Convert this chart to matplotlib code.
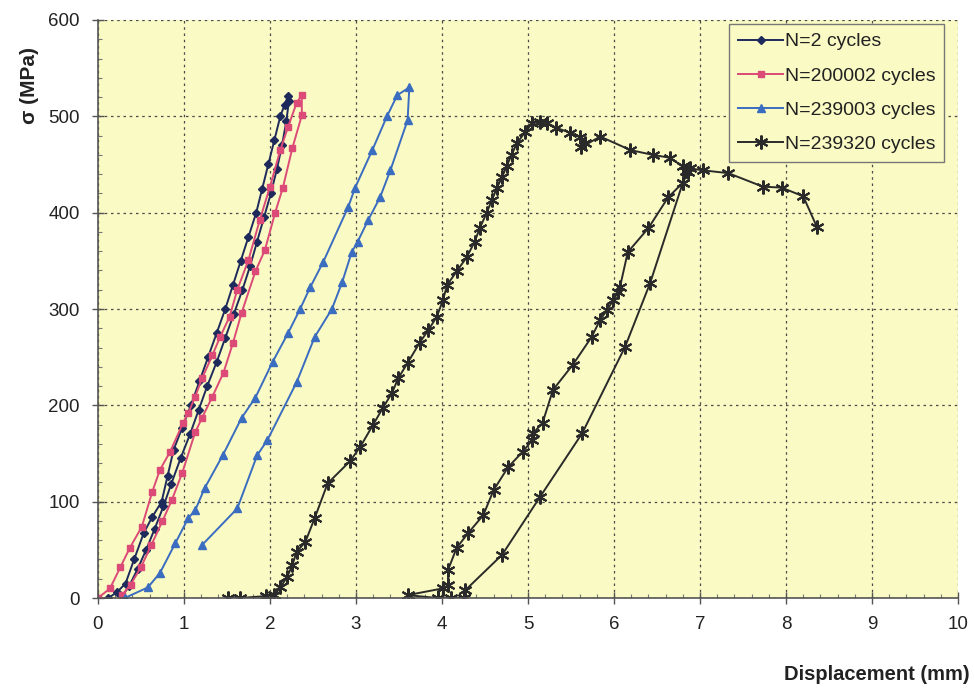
import numpy as np
import matplotlib.pyplot as plt
from matplotlib.ticker import MultipleLocator

plt.rcParams['font.family'] = ['Liberation Sans', 'DejaVu Sans']

# displacement (mm) / stress (MPa) for each recorded cycle
n2_disp = [0.12, 0.22, 0.32, 0.42, 0.53, 0.63, 0.74, 0.81, 0.88, 0.98, 1.08, 1.18, 1.28,
           1.38, 1.48, 1.57, 1.66, 1.75, 1.84, 1.91, 1.98, 2.05, 2.12, 2.17, 2.21,
           2.22, 2.19, 2.14, 2.08, 2.01, 1.93, 1.85, 1.77, 1.68, 1.58, 1.48, 1.38,
           1.27, 1.17, 1.07, 0.96, 0.85, 0.76, 0.66, 0.56, 0.46, 0.36, 0.28]
n2_stress = [0, 6, 15, 40, 67, 84, 100, 127, 154, 177, 200, 225, 250,
             275, 300, 325, 350, 375, 400, 425, 450, 475, 500, 512, 521,
             516, 495, 470, 445, 420, 395, 370, 345, 320, 295, 270, 245,
             220, 195, 170, 145, 118, 95, 72, 50, 30, 12, 2]

n200002_disp = [0.0, 0.14, 0.26, 0.37, 0.51, 0.63, 0.72, 0.84, 0.99, 1.05, 1.13, 1.21,
                1.33, 1.42, 1.53, 1.62, 1.75, 1.88, 2.00, 2.12, 2.21, 2.31, 2.37,
                2.37, 2.26, 2.15, 2.06, 1.94, 1.83, 1.67, 1.57, 1.46, 1.33, 1.21,
                1.13, 0.98, 0.86, 0.75, 0.62, 0.50, 0.38, 0.28]
n200002_stress = [0, 10, 32, 52, 74, 110, 133, 152, 182, 192, 209, 228,
                  252, 271, 292, 320, 351, 392, 427, 465, 489, 514, 522,
                  501, 467, 426, 400, 361, 339, 296, 265, 234, 209, 187,
                  172, 130, 102, 80, 55, 32, 14, 3]

n239003_disp = [0.31, 0.58, 0.72, 0.90, 1.05, 1.13, 1.24, 1.45, 1.67, 1.83, 2.03, 2.21,
                2.35, 2.47, 2.62, 2.91, 2.99, 3.19, 3.36, 3.48, 3.62,
                3.60, 3.40, 3.28, 3.14, 3.02, 2.95, 2.84, 2.72, 2.52, 2.31, 1.97,
                1.85, 1.62, 1.21]
n239003_stress = [0, 11, 26, 57, 83, 91, 114, 148, 187, 208, 245, 275,
                  300, 323, 349, 406, 426, 465, 500, 522, 530,
                  496, 444, 416, 392, 370, 359, 328, 300, 271, 224, 164,
                  148, 93, 55]

n239320_disp = [1.51, 1.65, 1.95, 2.05, 2.12, 2.20, 2.26, 2.31, 2.41, 2.52, 2.67, 2.93,
                3.05, 3.20, 3.31, 3.42, 3.49, 3.60, 3.74, 3.84, 3.94, 4.01, 4.06,
                4.17, 4.29, 4.38, 4.44, 4.52, 4.58, 4.64, 4.70, 4.75, 4.81, 4.87,
                4.97, 5.05, 5.14, 5.22, 5.33, 5.49, 5.60, 5.66, 5.62, 5.84, 6.19,
                6.45, 6.65, 6.80, 6.86,
                6.80, 6.42, 6.13, 5.63, 5.14, 4.70, 4.27, 4.25, 4.10, 3.95, 3.60,
                4.01, 4.07, 4.07, 4.17, 4.30, 4.48, 4.60, 4.77, 4.94, 5.05, 5.06,
                5.17, 5.29, 5.52, 5.74, 5.84, 5.92, 5.99, 6.05, 6.07, 6.16, 6.40,
                6.63, 6.80, 6.84, 6.88, 7.03, 7.33, 7.73, 7.95, 8.20, 8.36]
n239320_stress = [0, 0, 2, 3, 11, 22, 34, 48, 58, 83, 119, 142,
                  157, 180, 197, 213, 228, 244, 265, 278, 292, 309, 325,
                  339, 354, 370, 384, 400, 413, 426, 437, 448, 460, 472,
                  484, 493, 494, 493, 488, 483, 479, 472, 468, 479, 465,
                  460, 457, 448, 442,
                  431, 327, 261, 171, 105, 45, 8, 0, 0, 0, 3,
                  10, 13, 29, 52, 67, 86, 112, 136, 152, 164, 171,
                  182, 216, 242, 271, 289, 299, 309, 318, 323, 359, 384,
                  416, 431, 443, 446, 444, 441, 427, 426, 417, 385]

labels = ['N=2 cycles', 'N=200002 cycles', 'N=239003 cycles', 'N=239320 cycles']

fig = plt.figure(figsize=(9.74, 6.94), dpi=100)
ax = fig.add_axes([0.1006, 0.1383, 0.883, 0.8329])
ax.set_facecolor('#fafac4')

ax.plot(n2_disp, n2_stress, color='#1f2a5c', lw=1.4, marker='D', ms=3.8,
        label=labels[0])
ax.plot(n200002_disp, n200002_stress, color='#dc4a78', lw=1.4, marker='s', ms=3.8,
        label=labels[1])
ax.plot(n239003_disp, n239003_stress, color='#3a6cc0', lw=1.4, marker='^', ms=5.5,
        label=labels[2])
ax.plot(n239320_disp, n239320_stress, color='#2a2a2a', lw=1.4, marker=(6, 2, 0),
        ms=10, mew=1.5, label=labels[3])

ax.set_xlim(0, 10)
ax.set_ylim(0, 600)
ax.xaxis.set_major_locator(MultipleLocator(1))
ax.xaxis.set_minor_locator(MultipleLocator(0.2))
ax.yaxis.set_major_locator(MultipleLocator(100))
ax.yaxis.set_minor_locator(MultipleLocator(20))
ax.tick_params(which='major', direction='inout', length=8, width=1,
               color='#555555', labelsize=13.5, labelcolor='#222222', pad=9)
ax.tick_params(which='minor', direction='in', length=3, width=0.8, color='#777777')

ax.grid(True, which='major', color='#4a4a4a', lw=0.9, ls=(0, (2, 3)))
ax.set_axisbelow(True)

for side in ['top', 'right']:
    ax.spines[side].set_visible(False)
for side in ['left', 'bottom']:
    ax.spines[side].set_color('#555555')
    ax.spines[side].set_linewidth(1.2)

fig.text(0.996, 0.015, 'Displacement (mm)', ha='right', va='bottom',
         fontsize=14.5, fontweight='bold', color='#222222')
fig.text(0.03, 0.877, 'σ (MPa)', ha='center', va='center', rotation=90,
         fontsize=15, fontweight='bold', color='#222222')

leg = ax.legend(loc='upper right', bbox_to_anchor=(0.984, 0.993), fontsize=14,
                frameon=True, fancybox=False, handlelength=2.3, handletextpad=0.1,
                labelspacing=0.85, borderpad=0.45, borderaxespad=0)
leg.get_frame().set_edgecolor('#777777')
leg.get_frame().set_facecolor('#fafac4')
leg.get_frame().set_alpha(1)
for t in leg.get_texts():
    t.set_color('#222222')

fig.savefig('out.png', dpi=100)
